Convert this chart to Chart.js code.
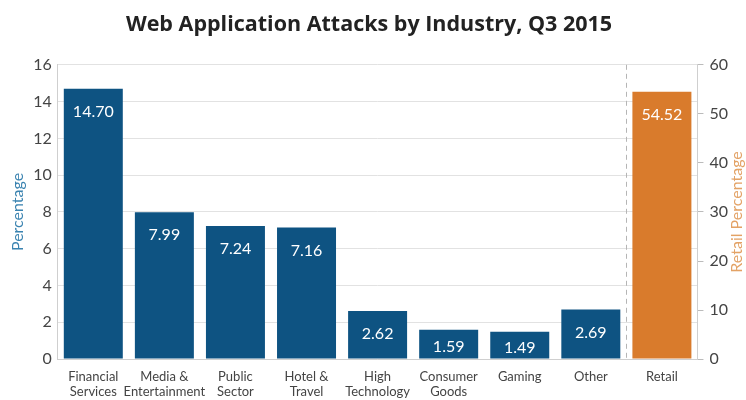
<!DOCTYPE html>
<html>
<head>
<meta charset="utf-8">
<script src="https://cdn.jsdelivr.net/npm/chart.js@4.4.0/dist/chart.umd.min.js"></script>
<style>
  html, body { margin: 0; padding: 0; background: #fff; }
  #wrap { width: 746px; height: 400px; }
</style>
</head>
<body>
<div id="wrap"><canvas id="attacks"></canvas></div>
<script>
// data
const categories = [
  ['Financial', 'Services'], ['Media &', 'Entertainment'], ['Public', 'Sector'],
  ['Hotel &', 'Travel'], ['High', 'Technology'], ['Consumer', 'Goods'],
  'Gaming', 'Other', 'Retail'
];
const industryValues = [14.70, 7.99, 7.24, 7.16, 2.62, 1.59, 1.49, 2.69, null];
const retailValues = [null, null, null, null, null, null, null, null, 54.52];
const leftTicks = [0, 2, 4, 6, 8, 10, 12, 14, 16];
const rightTicks = [0, 10, 20, 30, 40, 50, 60];

const BLUE = '#0e5382';
const ORANGE = '#d97b2c';

// white value labels inside the top of each bar
const valueLabels = {
  id: 'valueLabels',
  afterDatasetsDraw(chart) {
    const ctx = chart.ctx;
    ctx.save();
    ctx.fillStyle = '#ffffff';
    ctx.font = '16px Lato';
    ctx.textAlign = 'center';
    ctx.textBaseline = 'middle';
    chart.data.datasets.forEach((ds, i) => {
      chart.getDatasetMeta(i).data.forEach((bar, j) => {
        const v = ds.data[j];
        if (v == null) return;
        const off = Math.min(23, (bar.base - bar.y) / 2 + 3);
        ctx.fillText(v.toFixed(2), bar.x, bar.y + off);
      });
    });
    ctx.restore();
  }
};

// dashed divider before Retail + right axis title (reads bottom to top)
const extras = {
  id: 'extras',
  beforeDatasetsDraw(chart) {
    const x = chart.scales.x;
    const area = chart.chartArea;
    const px = Math.round((x.getPixelForValue(7) + x.getPixelForValue(8)) / 2) + 0.5;
    const ctx = chart.ctx;
    ctx.save();
    ctx.strokeStyle = '#b5b5b5';
    ctx.lineWidth = 1;
    ctx.setLineDash([5, 4]);
    ctx.beginPath();
    ctx.moveTo(px, area.top);
    ctx.lineTo(px, area.bottom);
    ctx.stroke();
    ctx.restore();
  },
  afterDraw(chart) {
    const area = chart.chartArea;
    const ctx = chart.ctx;
    ctx.save();
    ctx.translate(737, (area.top + area.bottom) / 2);
    ctx.rotate(-Math.PI / 2);
    ctx.fillStyle = '#e3a265';
    ctx.font = '16px Lato';
    ctx.textAlign = 'center';
    ctx.textBaseline = 'middle';
    ctx.fillText('Retail Percentage', 0, 0);
    ctx.restore();
  }
};

const chart = new Chart(document.getElementById('attacks'), {
  type: 'bar',
  data: {
    labels: categories,
    datasets: [{
      data: industryValues,
      backgroundColor: BLUE,
      yAxisID: 'y',
      grouped: false,
      barPercentage: 0.83,
      categoryPercentage: 1
    }, {
      data: retailValues,
      backgroundColor: ORANGE,
      yAxisID: 'y1',
      grouped: false,
      barPercentage: 0.83,
      categoryPercentage: 1
    }]
  },
  options: {
    responsive: true,
    maintainAspectRatio: false,
    animation: false,
    layout: { padding: { top: 9, left: 4, right: 12, bottom: -9 } },
    plugins: {
      legend: { display: false },
      tooltip: { enabled: false },
      title: {
        display: true,
        text: 'Web Application Attacks by Industry, Q3 2015',
        color: '#222',
        font: { family: 'Open Sans', size: 21.5, weight: 'bold' },
        padding: { top: 3, bottom: 27 }
      }
    },
    scales: {
      x: {
        grid: { display: false, drawTicks: false },
        border: { color: '#cfcfcf' },
        ticks: {
          color: '#444',
          font: { family: 'Lato', size: 13, lineHeight: 1.15 },
          maxRotation: 0,
          autoSkip: false,
          padding: 10
        }
      },
      y: {
        position: 'left',
        min: 0, max: 16,
        afterBuildTicks: s => { s.ticks = leftTicks.map(v => ({ value: v })); },
        grid: { color: '#e2e2e2', drawTicks: false },
        border: { color: '#cfcfcf' },
        ticks: { color: '#444', font: { family: 'Lato', size: 16 }, padding: 6 },
        title: {
          display: true,
          text: 'Percentage',
          color: '#3a83b0',
          font: { family: 'Lato', size: 16 },
          padding: { bottom: 0 }
        }
      },
      y1: {
        position: 'right',
        min: 0, max: 60,
        afterBuildTicks: s => { s.ticks = rightTicks.map(v => ({ value: v })); },
        grid: { drawOnChartArea: false, color: '#bbb', tickLength: 6 },
        border: { color: '#cfcfcf' },
        ticks: { color: '#444', font: { family: 'Lato', size: 16 }, padding: 6 }
      }
    }
  },
  plugins: [extras, valueLabels]
});
</script>
</body>
</html>
